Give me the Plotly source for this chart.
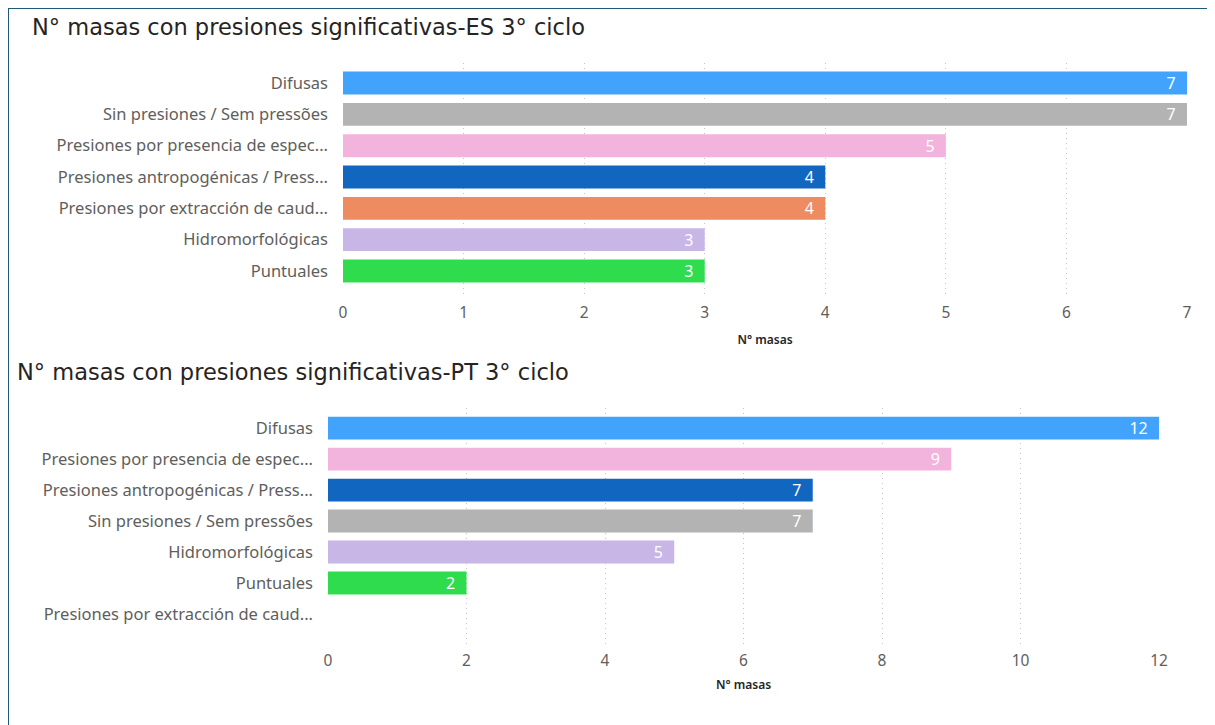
import plotly.graph_objects as go

# page body adds an 8px margin; figure coords are page coords minus OFF
OFF = 8
W, H = 1215 - OFF, 725 - OFF

# ---- data ----
es_categories = ["Difusas", "Sin presiones / Sem pressões", "Presiones por presencia de espec...",
                 "Presiones antropogénicas / Press...", "Presiones por extracción de caud...",
                 "Hidromorfológicas", "Puntuales"]
es_values = [7, 7, 5, 4, 4, 3, 3]

pt_categories = ["Difusas", "Presiones por presencia de espec...", "Presiones antropogénicas / Press...",
                 "Sin presiones / Sem pressões", "Hidromorfológicas", "Puntuales",
                 "Presiones por extracción de caud..."]
pt_values = [12, 9, 7, 7, 5, 2, 0]

es_ticks = [0, 1, 2, 3, 4, 5, 6, 7]
pt_ticks = [0, 2, 4, 6, 8, 10, 12]

color_map = {
    "Difusas": "#41a3fc",
    "Sin presiones / Sem pressões": "#b3b3b3",
    "Presiones por presencia de espec...": "#f2b4dc",
    "Presiones antropogénicas / Press...": "#1166bf",
    "Presiones por extracción de caud...": "#ee8b60",
    "Hidromorfológicas": "#c8b6e6",
    "Puntuales": "#2fdc4e",
}

title_es = "N° masas con presiones significativas-ES 3° ciclo"
title_pt = "N° masas con presiones significativas-PT 3° ciclo"
axis_title = "N° masas"

LABEL_FONT = dict(family="Noto Sans", size=16.5, color="#605e5c")

def px_x(p):
    return (p - OFF) / W

def px_y(p):
    return 1 - (p - OFF) / H

def bar_text(vals):
    return [(str(v) + "\u00a0\u00a0") if v else "" for v in vals]

fig = go.Figure()

fig.add_trace(go.Bar(
    x=es_values, y=es_categories, orientation="h",
    marker=dict(color=[color_map[c] for c in es_categories], line=dict(width=0)),
    width=0.73,
    text=bar_text(es_values),
    textposition="inside", insidetextanchor="end", textangle=0, constraintext="none",
    textfont=dict(family="Noto Sans", size=16, color="white"),
    xaxis="x", yaxis="y", showlegend=False, cliponaxis=False,
))
fig.add_trace(go.Bar(
    x=pt_values, y=pt_categories, orientation="h",
    marker=dict(color=[color_map[c] for c in pt_categories], line=dict(width=0)),
    width=0.74,
    text=bar_text(pt_values),
    textposition="inside", insidetextanchor="end", textangle=0, constraintext="none",
    textfont=dict(family="Noto Sans", size=16, color="white"),
    xaxis="x2", yaxis="y2", showlegend=False, cliponaxis=False,
))

common_x = dict(
    showgrid=True, gridcolor="#c4c4c4", griddash="1px,4px", gridwidth=1,
    zeroline=False, showline=False, ticks="", ticklabelstandoff=4,
    tickfont=dict(family="Noto Sans", size=15.5, color="#605e5c"),
    automargin=False,
)
common_y = dict(
    type="category", categoryorder="array", showgrid=False, zeroline=False,
    showline=False, ticks="", ticklabelstandoff=14,
    tickfont=LABEL_FONT, automargin=False,
)
AX_TITLE_FONT = dict(family="Noto Sans", size=12, color="#252423", weight=600)
TITLE_FONT = dict(family="DejaVu Sans", size=22.5, color="#252423")

fig.update_layout(
    width=W, height=H,
    margin=dict(l=0, r=0, t=0, b=0),
    paper_bgcolor="white", plot_bgcolor="white",
    xaxis=dict(domain=[px_x(343), px_x(1187)], range=[0, 7], tickvals=es_ticks,
               anchor="y", title=dict(text=axis_title, standoff=14, font=AX_TITLE_FONT),
               **common_x),
    yaxis=dict(domain=[px_y(297), px_y(63)], anchor="x",
               categoryarray=es_categories, range=[6.83, -0.64], **common_y),
    xaxis2=dict(domain=[px_x(328), px_x(1159)], range=[0, 12], tickvals=pt_ticks,
                anchor="y2", title=dict(text=axis_title, standoff=11, font=AX_TITLE_FONT),
                **common_x),
    yaxis2=dict(domain=[px_y(645), px_y(408)], anchor="x2",
                categoryarray=pt_categories, range=[7.0, -0.65], **common_y),
    annotations=[
        dict(text=title_es, x=px_x(30), y=px_y(27), xref="paper", yref="paper",
             xanchor="left", yanchor="middle", showarrow=False, font=TITLE_FONT),
        dict(text=title_pt, x=px_x(15), y=px_y(372), xref="paper", yref="paper",
             xanchor="left", yanchor="middle", showarrow=False, font=TITLE_FONT),
    ],
    shapes=[
        dict(type="rect", xref="paper", yref="paper",
             x0=px_x(8), x1=px_x(1230), y0=px_y(740), y1=px_y(8),
             line=dict(color="#1f5b78", width=2), fillcolor="rgba(0,0,0,0)", layer="above"),
    ],
)

fig.write_html("out.html")
